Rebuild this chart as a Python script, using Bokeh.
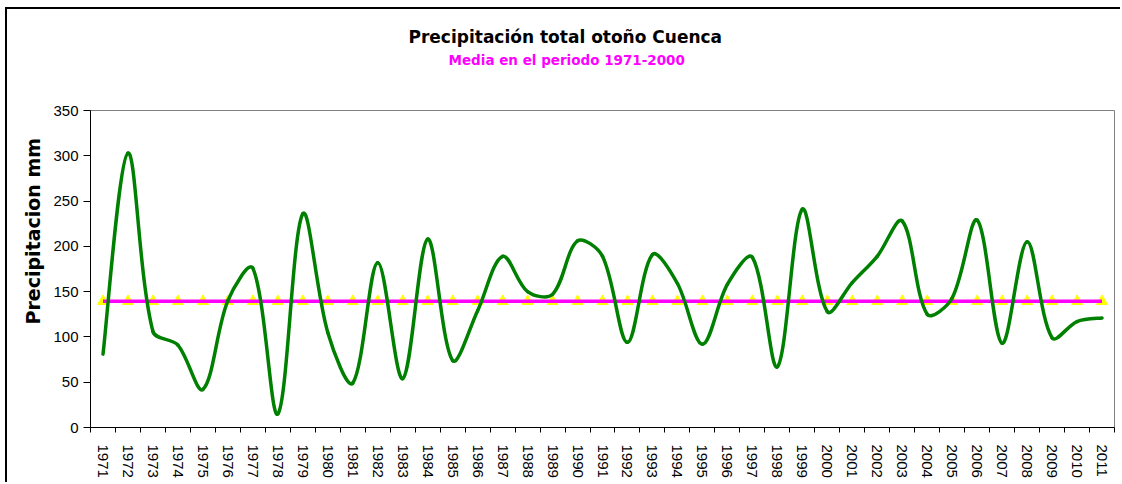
import numpy as np
from bokeh.plotting import figure
from bokeh.models import Range1d, FixedTicker, Title
from bokeh.embed import file_html
from bokeh.resources import INLINE

# ---------------- data ----------------
years = list(range(1971, 2012))
precip = [81, 303, 106, 91, 42, 140, 176, 15, 236, 105,
          49, 182, 54, 208, 74, 129, 189, 150, 147, 206,
          189, 94, 191, 159, 92, 158, 188, 67, 241, 128,
          160, 189, 228, 125, 143, 229, 93, 205, 99, 117, 121]
media = 139.3
y_ticks = [0, 50, 100, 150, 200, 250, 300, 350]
title_text = "Precipitación total  otoño Cuenca"
subtitle_text = "Media en el periodo 1971-2000"
ylabel_text = "Precipitacion  mm"

# ---------------- layout ----------------
W, H = 1115, 475
B_L, B_R, B_T, B_B = 83, 8, 101, 57
frame_w = W - B_L - B_R
frame_h = H - B_T - B_B
x0, x1 = years[0] - 0.5, years[-1] + 0.5
y0, y1 = 0, 350

p = figure(width=W, height=H, x_range=Range1d(x0, x1), y_range=Range1d(y0, y1),
           output_backend="svg", toolbar_location=None,
           min_border_left=B_L, min_border_right=B_R,
           min_border_top=B_T, min_border_bottom=B_B)
p.styles = {"margin-left": "5px", "margin-top": "7px",
            "border-left": "2px solid black", "border-top": "2px solid black"}
p.background_fill_color = "white"
p.border_fill_color = "white"
p.outline_line_color = "#808080"
p.outline_line_width = 1
p.xgrid.visible = False
p.ygrid.visible = False

# ---------------- Excel-like smoothed line via bezier segments ----------------
sx = frame_w / (x1 - x0)
sy = frame_h / (y1 - y0)
X = np.array(years, float)
Y = np.array(precip, float)
PX = (X - x0) * sx
PY = Y * sy
n = len(X)
cin = np.zeros((n, 2))
cout = np.zeros((n, 2))
for i in range(n):
    ip = max(i - 1, 0)
    inx = min(i + 1, n - 1)
    T = np.array([PX[inx] - PX[ip], PY[inx] - PY[ip]])
    dp = np.hypot(PX[i] - PX[ip], PY[i] - PY[ip])
    dn = np.hypot(PX[inx] - PX[i], PY[inx] - PY[i])
    tot = dp + dn if dp + dn > 0 else 1.0
    if i == 0 or i == n - 1:
        fo = fi = 1 / 6
    else:
        fo = (1 / 3) * dn / tot
        fi = (1 / 3) * dp / tot
    cout[i] = [PX[i] + T[0] * fo, PY[i] + T[1] * fo]
    cin[i] = [PX[i] - T[0] * fi, PY[i] - T[1] * fi]

def to_dx(v):
    return v / sx + x0

def to_dy(v):
    return v / sy + y0

# mean line with yellow triangles
p.scatter(years, [media] * n, marker="triangle", size=11,
          fill_color="#FFFF00", line_color="#FFFF00")
p.line(years, [media] * n, line_color="#FF00FF", line_width=3.5)

p.bezier(x0=X[:-1], y0=Y[:-1], x1=X[1:], y1=Y[1:],
         cx0=to_dx(cout[:-1, 0]), cy0=to_dy(cout[:-1, 1]),
         cx1=to_dx(cin[1:, 0]), cy1=to_dy(cin[1:, 1]),
         line_color="#008000", line_width=3.5, line_cap="round")

# ---------------- axes ----------------
yax = p.yaxis[0]
yax.ticker = FixedTicker(ticks=y_ticks)
yax.axis_line_color = "black"
yax.major_tick_line_color = "black"
yax.major_tick_out = 7
yax.major_tick_in = 0
yax.minor_tick_line_color = None
yax.major_label_standoff = 5
yax.major_label_text_font = "Liberation Sans"
yax.major_label_text_font_size = "15px"
yax.major_label_text_color = "black"

xax = p.xaxis[0]
xax.ticker = FixedTicker(ticks=years, minor_ticks=[y - 0.5 for y in years] + [years[-1] + 0.5])
xax.axis_line_color = "black"
xax.major_tick_line_color = None
xax.major_tick_out = 5
xax.major_tick_in = 0
xax.minor_tick_line_color = "black"
xax.minor_tick_out = 5
xax.minor_tick_in = 0
xax.major_label_orientation = "vertical"
xax.major_label_standoff = 12
xax.major_label_text_font = "Liberation Sans"
xax.major_label_text_font_size = "15px"
xax.major_label_text_color = "black"

# ---------------- titles ----------------
# blank spacer between the plot area and the subtitle
spacer = Title(text=" ", text_font="DejaVu Sans", text_font_size="10px",
               text_color="white", standoff=28)
p.add_layout(spacer, "above")

sub = Title(text=subtitle_text, text_font="DejaVu Sans", text_font_style="bold",
            text_font_size="13.5px", text_color="#FF00FF", align="left",
            offset=358, standoff=4)
main = Title(text=title_text, text_font="DejaVu Sans", text_font_style="bold",
             text_font_size="17px", text_color="black", align="left",
             offset=318, standoff=2)
p.add_layout(sub, "above")
p.add_layout(main, "above")

ylab = Title(text=ylabel_text, text_font="DejaVu Sans", text_font_style="bold",
             text_font_size="19px", text_color="black", align="left",
             offset=103, standoff=14)
p.add_layout(ylab, "left")

open("out.html", "w").write(file_html(p, INLINE))
